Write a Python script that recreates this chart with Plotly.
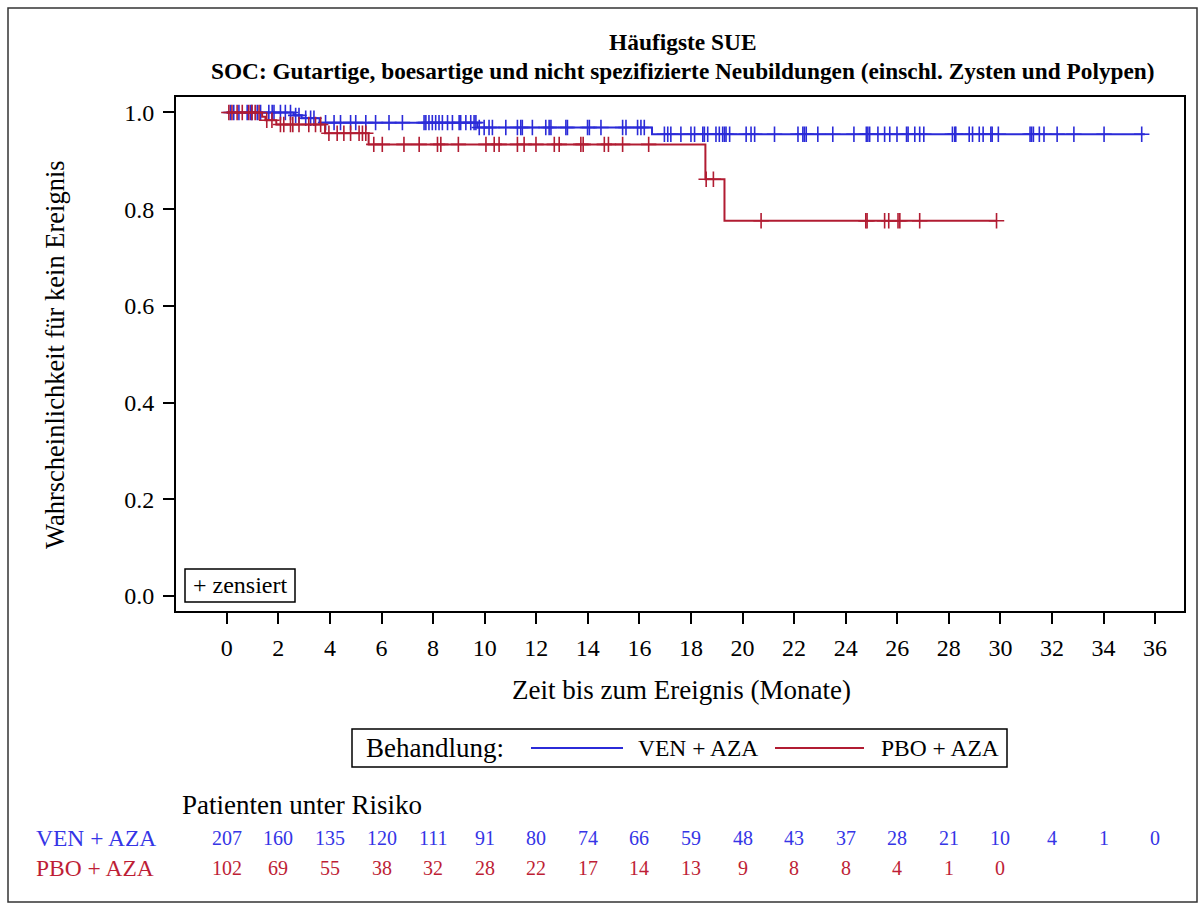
import plotly.graph_objects as go

# ---------------- data ----------------
months_ticks = list(range(0, 37, 2))

ven_event_t = [0.0, 2.6, 2.9, 3.6, 9.72, 16.49]
ven_event_s = [1.0, 0.994, 0.988, 0.979, 0.969, 0.955]
ven_end = 35.6

pbo_event_t = [0.0, 1.37, 1.5, 1.92, 3.81, 5.5, 18.56, 19.3]
pbo_event_s = [1.0, 0.991, 0.984, 0.975, 0.957, 0.934, 0.862, 0.776]
pbo_end = 29.85

ven_cens = [0.14, 0.27, 0.47, 0.79, 0.92, 0.98, 1.18, 1.31, 1.63, 1.76, 1.83, 2.08, 2.27, 2.47,
            2.67, 2.8, 3.06, 3.25, 3.38, 3.83, 4.16, 4.41, 4.8, 5.0, 5.39, 5.77, 6.29, 6.81,
            7.65, 7.72, 7.84, 7.97, 8.1, 8.23, 8.36, 8.56, 8.75, 9.01, 9.07, 9.27, 9.46, 9.59,
            9.66, 9.79, 9.98, 10.17, 10.3, 10.82, 11.27, 11.4, 11.46, 11.85, 12.37, 12.5, 12.57,
            13.15, 13.21, 13.99, 14.06, 14.51, 15.35, 15.48, 15.93, 16.06, 16.19, 16.97, 17.1,
            17.22, 17.61, 18.0, 18.14, 18.46, 18.52, 18.65, 18.97, 19.1, 19.23, 19.3, 19.36,
            19.5, 20.14, 20.33, 20.47, 21.24, 22.15, 22.34, 22.4, 22.47, 22.92, 23.5, 24.32,
            24.8, 24.86, 24.93, 25.25, 25.51, 25.71, 25.99, 26.36, 26.42, 26.68, 26.87, 27.03,
            28.14, 28.23, 28.27, 28.79, 28.92, 29.18, 29.33, 29.63, 29.68, 29.92, 31.15, 31.21,
            31.28, 31.51, 31.69, 32.2, 32.85, 34.02, 35.48]

pbo_cens = [0.08, 0.2, 0.4, 0.6, 0.85, 0.97, 1.1, 1.25, 1.55, 1.75, 2.08, 2.21, 2.47, 2.56,
            2.8, 3.18, 3.44, 3.64, 3.96, 4.28, 4.54, 4.8, 5.13, 5.26, 5.39, 5.7, 6.03, 6.87,
            7.46, 8.17, 8.3, 8.98, 10.05, 10.37, 10.56, 11.27, 11.53, 11.99, 12.7, 12.89, 13.73,
            13.82, 14.64, 14.8, 15.35, 16.36, 18.59, 18.87, 20.72, 24.78, 24.83, 25.51, 25.67,
            26.03, 26.1, 26.87, 29.85]

ven_risk = [207, 160, 135, 120, 111, 91, 80, 74, 66, 59, 48, 43, 37, 28, 21, 10, 4, 1, 0]
pbo_risk = [102, 69, 55, 38, 32, 28, 22, 17, 14, 13, 9, 8, 8, 4, 1, 0]

groups = ["VEN + AZA", "PBO + AZA"]
BLUE = "#2B2BD8"
RED = "#B11C32"
BLUE_TXT = "#3535E6"
RED_TXT = "#BE1E36"
FONT = "Liberation Serif"

# ---------------- helpers ----------------
L, R, T, B = 176, 1184, 97, 611
W, H = 1199, 904


def px(x):
    return (x - L) / (R - L)


def py(y):
    return (B - y) / (B - T)


def surv_at(times, surv, t):
    s = surv[0]
    for ti, si in zip(times, surv):
        if ti <= t:
            s = si
    return s


fig = go.Figure()

for name, et, es, end, cens, col in [
    (groups[0], ven_event_t, ven_event_s, ven_end, ven_cens, BLUE),
    (groups[1], pbo_event_t, pbo_event_s, pbo_end, pbo_cens, RED),
]:
    xs = list(et) + [end]
    ys = list(es) + [es[-1]]
    fig.add_trace(go.Scatter(x=xs, y=ys, mode="lines", line=dict(color=col, width=2, shape="hv"),
                             name=name, showlegend=False, hoverinfo="skip"))
    fig.add_trace(go.Scatter(x=cens, y=[surv_at(et, es, c) for c in cens], mode="markers",
                             marker=dict(symbol="cross-thin", size=11, color=col,
                                         line=dict(color=col, width=1.6)),
                             showlegend=False, hoverinfo="skip"))

ann = []
shapes = []


def text(t, x, y, size, color="black", xanchor="center", xref="paper", angle=0):
    ann.append(dict(text=t, x=x, y=py(y), xref=xref, yref="paper", showarrow=False,
                    xanchor=xanchor, yanchor="middle", textangle=angle,
                    font=dict(family=FONT, size=size, color=color)))


# titles
text("<b>Häufigste SUE</b>", px(683), 42, 23.4)
text("<b>SOC: Gutartige, boesartige und nicht spezifizierte Neubildungen (einschl. Zysten und Polypen)</b>",
     px(683), 71, 23.3)
# axis titles
text("Wahrscheinlichkeit für kein Ereignis", px(55), 355, 26.5, angle=-90)
text("Zeit bis zum Ereignis (Monate)", px(681), 690, 27)

# censor legend box
shapes.append(dict(type="rect", xref="paper", yref="paper", x0=px(185), x1=px(295), y0=py(602),
                   y1=py(569), line=dict(color="black", width=1.5)))
text("+ zensiert", px(240), 585, 24)

# treatment legend
shapes.append(dict(type="rect", xref="paper", yref="paper", x0=px(352), x1=px(1007), y0=py(767),
                   y1=py(729), line=dict(color="black", width=1.5)))
text("Behandlung:", px(364), 748, 27, xanchor="left")
shapes.append(dict(type="line", xref="paper", yref="paper", x0=px(531), x1=px(623), y0=py(748),
                   y1=py(748), line=dict(color=BLUE, width=2)))
text(groups[0], px(636), 748, 23.5, xanchor="left")
shapes.append(dict(type="line", xref="paper", yref="paper", x0=px(775), x1=px(864), y0=py(748),
                   y1=py(748), line=dict(color=RED, width=2)))
text(groups[1], px(879), 748, 23.5, xanchor="left")

# risk table
text("Patienten unter Risiko", px(180), 805, 27, xanchor="left")
for label, risks, col, yy in [(groups[0], ven_risk, BLUE_TXT, 838), (groups[1], pbo_risk, RED_TXT, 868)]:
    text(label, px(34), yy, 23.5, color=col, xanchor="left")
    for m, n in zip(months_ticks, risks):
        text(str(n), m, yy, 20, color=col, xref="x")

# outer frame
shapes.append(dict(type="rect", xref="paper", yref="paper", x0=px(8), x1=px(1197), y0=py(902),
                   y1=py(8), line=dict(color="#333333", width=1.5)))

fig.update_layout(
    width=W, height=H,
    margin=dict(l=L, r=W - R, t=T, b=H - B),
    paper_bgcolor="white", plot_bgcolor="white",
    annotations=ann, shapes=shapes, showlegend=False,
    font=dict(family=FONT, color="black"),
)
fig.update_xaxes(range=[-1.97, 37.12], tickvals=months_ticks, ticks="outside", ticklen=11,
                 tickwidth=2, tickcolor="black", showline=True, linecolor="black", linewidth=2,
                 mirror=True, showgrid=False, zeroline=False, ticklabelstandoff=3,
                 tickfont=dict(family=FONT, size=24, color="black"))
fig.update_yaxes(range=[-0.031, 1.032], tickvals=[0, 0.2, 0.4, 0.6, 0.8, 1.0], tickformat=".1f",
                 ticks="outside", ticklen=11, tickwidth=2, tickcolor="black", showline=True,
                 linecolor="black", linewidth=2, mirror=True, showgrid=False, zeroline=False,
                 ticklabelstandoff=4, tickfont=dict(family=FONT, size=24, color="black"))

fig.write_html("out.html")
